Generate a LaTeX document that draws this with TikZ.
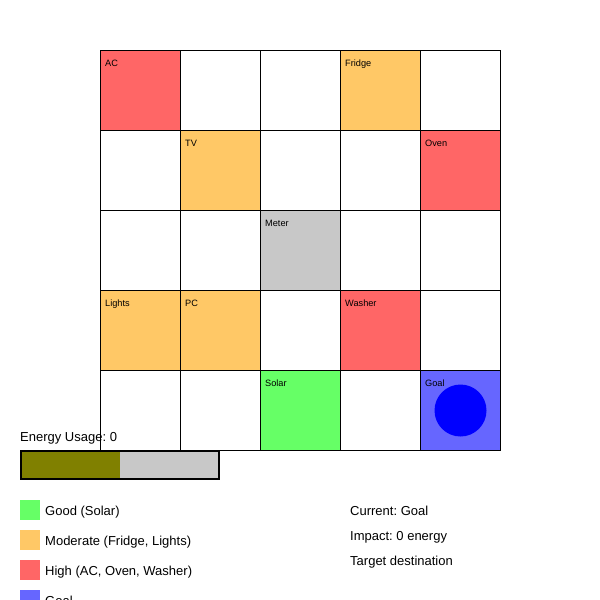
\documentclass[tikz,border=0pt]{standalone}
\usepackage{fontspec}
\setmainfont{Liberation Sans}
\frenchspacing
\usetikzlibrary{positioning,calc}
\definecolor{highred}{HTML}{FF6666}
\definecolor{modorange}{HTML}{FFC866}
\definecolor{goodgreen}{HTML}{66FF66}
\definecolor{goalblue}{HTML}{6666FF}
\definecolor{agentblue}{HTML}{0000FF}
\definecolor{metergray}{HTML}{C8C8C8}
\definecolor{barolive}{HTML}{808000}
\tikzset{
  cellbox/.style={
    draw=black,
    line width=1pt,
    minimum size=80pt,
    inner sep=0pt,
    anchor=north west
  },
  celltag/.style={
    font=\fontsize{9.2}{11}\selectfont,
    anchor=base west,
    inner sep=0pt
  },
  infotext/.style={
    font=\fontsize{13}{15}\selectfont,
    anchor=base west,
    inner sep=0pt
  },
  keybox/.style={
    minimum size=20pt,
    inner sep=0pt,
    anchor=north west
  }
}

\begin{document}
\begin{tikzpicture}[x=1pt,y=-1pt]
\useasboundingbox (0,0) rectangle (600,600);
\clip (0,0) rectangle (600,600);
% energy readout
\node[infotext] (usage) at (20,441) {Energy Usage: 0};
\node[draw=black, line width=2pt, fill=metergray, minimum width=198pt, minimum height=28pt,
  inner sep=0pt, anchor=north west,
  path picture={\fill[barolive] (path picture bounding box.north west) rectangle (path picture bounding box.south);}]
  (bar) at (20,450) {};
% grid
\foreach \r in {0,...,4}
  \foreach \c in {0,...,4}
    \node[cellbox] (cell\r\c) at (100+80*\c,50+80*\r) {};
\node[cellbox, fill=highred] (ac) at (cell00.north west) {};
\node[cellbox, fill=modorange] (fridge) at (cell03.north west) {};
\node[cellbox, fill=modorange] (tv) at (cell11.north west) {};
\node[cellbox, fill=highred] (oven) at (cell14.north west) {};
\node[cellbox, fill=metergray] (meter) at (cell22.north west) {};
\node[cellbox, fill=modorange] (lights) at (cell30.north west) {};
\node[cellbox, fill=modorange] (pc) at (cell31.north west) {};
\node[cellbox, fill=highred] (washer) at (cell33.north west) {};
\node[cellbox, fill=goodgreen] (solar) at (cell42.north west) {};
\node[cellbox, fill=goalblue] (goal) at (cell44.north west) {};
\foreach \n/\t in {ac/AC, fridge/Fridge, tv/TV, oven/Oven, meter/Meter,
                   lights/Lights, pc/PC, washer/Washer, solar/Solar, goal/Goal}
  \node[celltag] (\n tag) at ($(\n.north west)+(5,16.5)$) {\t};
\node[circle, fill=agentblue, minimum size=52pt, inner sep=0pt] (agent) at (goal.center) {};
% legend
\node[keybox, fill=goodgreen] (keygood) at (20,500) {};
\node[keybox, fill=modorange] (keymod) at (20,530) {};
\node[keybox, fill=highred] (keyhigh) at (20,560) {};
\node[keybox, fill=goalblue] (keygoal) at (20,590) {};
\node[infotext] (txtgood) at (45,515) {Good (Solar)};
\node[infotext] (txtmod) at (45,545) {Moderate (Fridge, Lights)};
\node[infotext] (txthigh) at (45,575) {High (AC, Oven, Washer)};
\node[infotext] (txtgoal) at (45,605) {Goal};
% status
\node[infotext] (current) at (350,515) {Current: Goal};
\node[infotext] (impact) at (350,540) {Impact: 0 energy};
\node[infotext] (target) at (350,565) {Target destination};
\end{tikzpicture}
\end{document}
